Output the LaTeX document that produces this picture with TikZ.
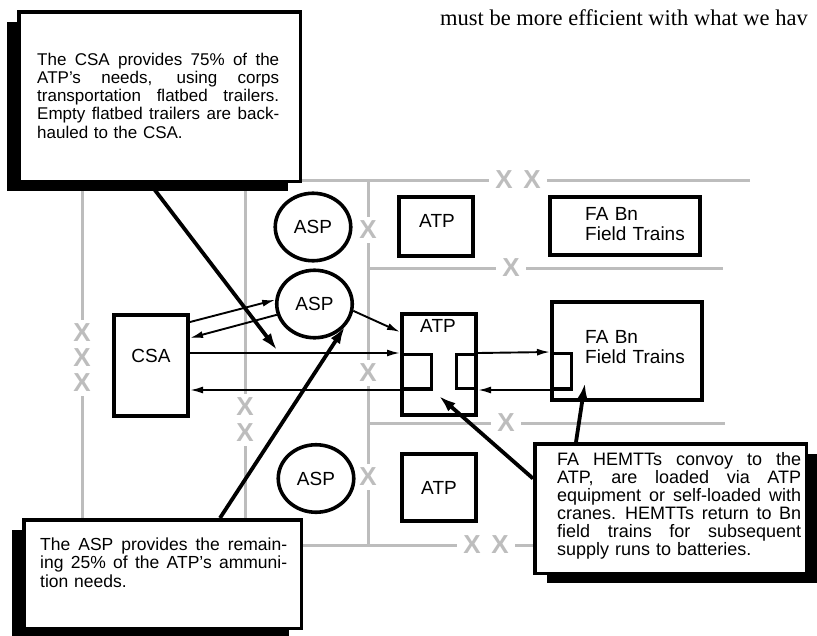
\documentclass[tikz,border=0pt]{standalone}
\usepackage{fontspec}
\setmainfont{Liberation Sans}
\newfontfamily\quotefont{Liberation Serif}
\usetikzlibrary{arrows.meta,shapes.geometric,shadows}
\setlength{\parindent}{0pt}
\definecolor{bndgray}{gray}{0.74}
\newcommand{\jline}[1]{\hbox to \hsize{\spaceskip=.278em plus 1fil\relax #1}\par}
\newcommand{\eline}[1]{\hbox to \hsize{#1\hfil}\par}
\tikzset{site/.style={draw,line width=3.8pt,inner sep=0pt,fill=white,
  font=\fontsize{19}{19.5}\selectfont},
  asp/.style={site,ellipse,line width=3.6pt,minimum width=75.5pt,minimum height=67.5pt},
  bin/.style={draw,line width=3pt,inner sep=0pt},
  tag/.style={inner sep=0pt,align=left,font=\fontsize{19}{19.5}\selectfont},
  note/.style={draw,fill=white,line width=3.5pt,inner sep=0pt},
  notetext/.style={inner sep=0pt,anchor=north west},
  flow/.style={-{Latex[length=13pt,width=7pt]},line width=1.9pt},
  point/.style={-{Latex[length=17pt,width=11pt]},line width=3.8pt},
  bnd/.style={draw=bndgray,line width=3pt},
  xmark/.style={text=bndgray,fill=white,inner xsep=6pt,inner ysep=4.5pt,
  font=\fontsize{26}{26}\selectfont\bfseries}}
\begin{document}
\begin{tikzpicture}[x=1pt,y=-1pt]
\useasboundingbox (0,0) rectangle (817,635);
% unit boundaries
\draw[bnd] (82,185) -- (82,540);
\draw[bnd] (750,180) -- (245,180) -- (245,545) -- (540,545);
\draw[bnd] (368,180) -- (368,545);
\draw[bnd] (368,268) -- (723,268);
\draw[bnd] (368,423) -- (725,423);
\foreach \y in {333,358,383} \node[xmark] (xc\y) at (82,\y) {X};
\foreach \y in {407,433} \node[xmark] (xd\y) at (245,\y) {X};
\foreach \x in {504,532} \node[xmark] (xt\x) at (\x,180) {X};
\foreach \x in {472,500} \node[xmark] (xb\x) at (\x,545) {X};
\foreach \y in {230,373,477} \node[xmark] (xv\y) at (368,\y) {X};
\node[xmark] (xh1) at (511,268) {X};
\node[xmark] (xh2) at (506,423) {X};
\node[anchor=base west,inner sep=0pt,font=\quotefont\fontsize{22.5}{27}\selectfont] (quote) at (440,25) {must be more efficient with what we hav};
% supply points
\node[site,minimum width=74.2pt,minimum height=59.2pt] (atpA) at (436,226.5) {};
\node[tag] (atpAtag) at (437,220.5) {ATP};
\node[site,minimum width=150.2pt,minimum height=58.2pt] (faA) at (625,226) {};
\node[tag,anchor=north west,text width=110pt] (faAtag) at (585,207.4) {FA Bn\\Field Trains};
\node[asp] (aspA) at (313,227) {ASP};
\node[asp] (aspB) at (314.5,304) {ASP};
\node[asp] (aspC) at (316,478.5) {ASP};
\node[site,minimum width=74.2pt,minimum height=101.2pt] (csa) at (151,365.5) {};
\node[tag] (csatag) at (151,356) {CSA};
\node[site,minimum width=74.2pt,minimum height=101.2pt] (atpB) at (439,364.5) {};
\node[tag] (atpBtag) at (438,326) {ATP};
\node[bin,minimum width=30pt,minimum height=34pt] (lsqB) at (416.5,371.5) {};
\node[bin,minimum width=20pt,minimum height=34pt] (rsqB) at (466.5,371.5) {};
\node[site,minimum width=150.2pt,minimum height=98.2pt] (faB) at (627,351) {};
\node[bin,minimum width=20pt,minimum height=35pt] (lsqF) at (561.5,371) {};
\node[tag,anchor=north west,text width=110pt] (faBtag) at (585,330.4) {FA Bn\\Field Trains};
\node[site,minimum width=74.2pt,minimum height=67.2pt] (atpC) at (439,487.5) {ATP};
% ammunition flow
\draw[flow] ([shift={(0,9)}]csa.north east) -- (aspB.174);
\draw[flow] (aspB.196) -- ([shift={(0,25)}]csa.north east);
\draw[flow] (aspB.-10) -- ([shift={(0,20)}]atpB.north west);
\draw[flow] (csa.east |- lsqB.north west) -- (lsqB.north west);
\draw[flow] (lsqB.south east) -- (csa.east |- lsqB.south east);
\draw[flow] (rsqB.north east) -- (lsqF.north west);
\draw[flow] (lsqF.south east) -- (rsqB.south east);
% callouts
\node[note,minimum width=281.5pt,minimum height=169.5pt,
  general shadow={fill=black,shadow xshift=-12pt,shadow yshift=-10pt}] (noteA) at (159.5,96.5) {};
\node[notetext,text width=242pt,font=\fontsize{17}{18.25}\selectfont] (noteAtxt) at (37,52.6) {%
\jline{The CSA provides 75\% of the}%
\jline{ATP's needs, using corps}%
\jline{transportation flatbed trailers.}%
\jline{Empty flatbed trailers are back-}%
\eline{hauled to the CSA.}};
\node[note,minimum width=277.5pt,minimum height=108.5pt,
  general shadow={fill=black,shadow xshift=-12pt,shadow yshift=-10pt}] (noteB) at (162.5,574) {};
\node[notetext,text width=247pt,font=\fontsize{17.5}{18.5}\selectfont] (noteBtxt) at (40,537.2) {%
\jline{The ASP provides the remain-}%
\jline{ing 25\% of the ATP's ammuni-}%
\eline{tion needs.}};
\node[note,minimum width=271.5pt,minimum height=129.5pt,
  general shadow={fill=black,shadow xshift=12pt,shadow yshift=-10pt}] (noteC) at (670.5,508.5) {};
\node[notetext,text width=244pt,font=\fontsize{18}{18}\selectfont] (noteCtxt) at (557,451.9) {%
\jline{FA HEMTTs convoy to the}%
\jline{ATP, are loaded via ATP}%
\jline{equipment or self-loaded with}%
\jline{cranes. HEMTTs return to Bn}%
\jline{field trains for subsequent}%
\eline{supply runs to batteries.}};
\coordinate (trailTip) at (277,350);
\draw[point] ([shift={(-10,0)}]noteA.south) -- (trailTip);
\draw[point] ([shift={(57.5,0)}]noteB.north) -- (aspB.-37);
\draw[point] ([shift={(0,-30)}]noteC.west) -- ([shift={(6,6)}]lsqB.south east);
\draw[point] ([shift={(-94.5,0)}]noteC.north) -- ([shift={(35,-19)}]faB.south west);
\end{tikzpicture}
\end{document}
